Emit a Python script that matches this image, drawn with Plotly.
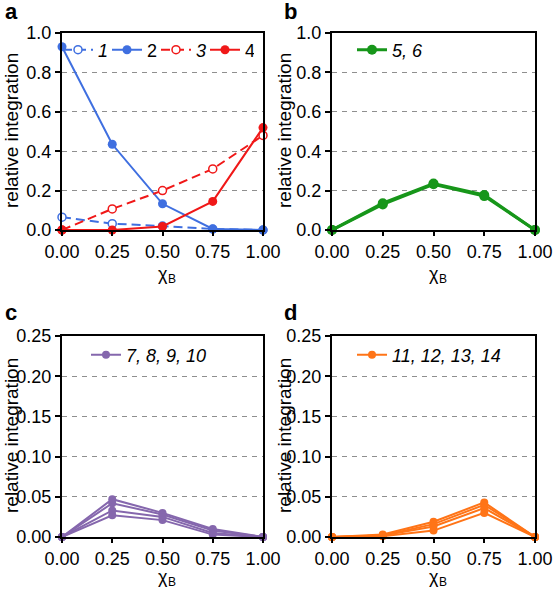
import plotly.graph_objects as go

W, H = 556, 591

x_vals = [0.0, 0.25, 0.5, 0.75, 1.0]
x_ticks = [0.0, 0.25, 0.5, 0.75, 1.0]
x_ticklabels = ["0.00", "0.25", "0.50", "0.75", "1.00"]

# panel a
s1 = [0.065, 0.032, 0.02, 0.005, 0.0]
s2 = [0.93, 0.435, 0.133, 0.005, 0.0]
s3 = [0.0, 0.107, 0.20, 0.31, 0.48]
s4 = [0.0, 0.0, 0.018, 0.145, 0.52]
# panel b
s5 = [0.0, 0.13, 0.232, 0.172, 0.0]
s6 = [0.0, 0.136, 0.236, 0.178, 0.0]
# panel c
s7 = [0.0, 0.047, 0.030, 0.010, 0.0]
s8 = [0.0, 0.042, 0.028, 0.008, 0.0]
s9 = [0.0, 0.033, 0.025, 0.005, 0.0]
s10 = [0.0, 0.027, 0.021, 0.003, 0.0]
# panel d
s11 = [0.0, 0.003, 0.019, 0.043, 0.0]
s12 = [0.0, 0.002, 0.016, 0.040, 0.0]
s13 = [0.0, 0.002, 0.013, 0.036, 0.0]
s14 = [0.0, 0.001, 0.008, 0.030, 0.0]

y_ticks_ab = [0.0, 0.2, 0.4, 0.6, 0.8, 1.0]
y_ticks_cd = [0.0, 0.05, 0.10, 0.15, 0.20, 0.25]

BLUE = "#3f6fe0"
RED = "#f01818"
GREEN = "#17961a"
PURPLE = "#8567ad"
ORANGE = "#ff7417"

FONT = "Liberation Sans, Arial, sans-serif"

fig = go.Figure()

def add(y, color, name, xa, ya, legend, dash="solid", open_=False, show=True, lw=2, ms=9):
    fig.add_trace(go.Scatter(
        x=x_vals, y=y, mode="lines+markers", name=name,
        line=dict(color=color, width=lw, dash=dash),
        marker=dict(color="white" if open_ else color, size=ms if not open_ else 8,
                    symbol="circle", line=dict(color=color, width=1.5 if open_ else 0)),
        xaxis=xa, yaxis=ya, legend=legend, showlegend=show, cliponaxis=False,
    ))

add(s1, BLUE, "<i>1</i>", "x", "y", "legend", dash="9px,5px", open_=True)
add(s2, BLUE, "2", "x", "y", "legend")
add(s3, RED, "<i>3</i>", "x", "y", "legend", dash="9px,5px", open_=True)
add(s4, RED, "4", "x", "y", "legend")

add(s5, GREEN, "<i>5, 6</i>", "x2", "y2", "legend2", lw=3, ms=10)
add(s6, GREEN, "6", "x2", "y2", "legend2", show=False, lw=3, ms=10)

for i, s in enumerate([s7, s8, s9, s10]):
    add(s, PURPLE, "<i>7, 8, 9, 10</i>", "x3", "y3", "legend3", show=(i == 0), ms=8)
for i, s in enumerate([s11, s12, s13, s14]):
    add(s, ORANGE, "<i>11, 12, 13, 14</i>", "x4", "y4", "legend4", show=(i == 0), ms=8)

def px_x(p):
    return p / W

def px_y(p):
    return 1 - p / H

xdom_l = [px_x(62), px_x(263)]
xdom_r = [px_x(332), px_x(535)]
ydom_t = [px_y(230), px_y(33)]
ydom_b = [px_y(537), px_y(336)]

xcommon = dict(range=[0, 1], tickvals=x_ticks, ticktext=x_ticklabels,
               showline=True, linecolor="black", linewidth=2, mirror=True,
               ticks="outside", ticklen=4, tickwidth=1.5, tickcolor="black",
               showgrid=False, zeroline=False, automargin=False,
               tickfont=dict(size=18, color="black", family=FONT))
ycommon = dict(showline=True, linecolor="black", linewidth=2, mirror=True,
               ticks="outside", ticklen=5, tickwidth=1.5, tickcolor="black",
               showgrid=True, gridcolor="#8f8f8f", gridwidth=1, griddash="5px,5px",
               zeroline=False, automargin=False,
               tickfont=dict(size=18, color="black", family=FONT))

fig.update_layout(
    template="none",
    width=W, height=H, margin=dict(l=0, r=0, t=0, b=0, autoexpand=False),
    paper_bgcolor="white", plot_bgcolor="white",
    font=dict(family=FONT, color="black"),
    xaxis=dict(domain=xdom_l, anchor="y", **xcommon),
    yaxis=dict(domain=ydom_t, anchor="x", range=[0, 1], tickvals=y_ticks_ab,
               ticktext=[f"{v:.1f}" for v in y_ticks_ab], **ycommon),
    xaxis2=dict(domain=xdom_r, anchor="y2", **xcommon),
    yaxis2=dict(domain=ydom_t, anchor="x2", range=[0, 1], tickvals=y_ticks_ab,
                ticktext=[f"{v:.1f}" for v in y_ticks_ab], **ycommon),
    xaxis3=dict(domain=xdom_l, anchor="y3", **xcommon),
    yaxis3=dict(domain=ydom_b, anchor="x3", range=[0, 0.25], tickvals=y_ticks_cd,
                ticktext=[f"{v:.2f}" for v in y_ticks_cd], **ycommon),
    xaxis4=dict(domain=xdom_r, anchor="y4", **xcommon),
    yaxis4=dict(domain=ydom_b, anchor="x4", range=[0, 0.25], tickvals=y_ticks_cd,
                ticktext=[f"{v:.2f}" for v in y_ticks_cd], **ycommon),
)

legcommon = dict(orientation="h", bgcolor="rgba(0,0,0,0)", borderwidth=0,
                 font=dict(size=18, color="black", family=FONT),
                 xanchor="left", yanchor="middle", itemclick=False,
                 tracegroupgap=0)
fig.update_layout(
    legend=dict(x=px_x(58), y=px_y(50), entrywidth=4, entrywidthmode="pixels", **legcommon),
    legend2=dict(x=px_x(352), y=px_y(50), **legcommon),
    legend3=dict(x=px_x(86), y=px_y(355), **legcommon),
    legend4=dict(x=px_x(352), y=px_y(355), **legcommon),
)

ann = []
for (t, x, y) in [("a", 3, 12), ("b", 282, 12), ("c", 3, 312), ("d", 282, 312)]:
    ann.append(dict(text=f"<b>{t}</b>", x=px_x(x), y=px_y(y), xref="paper", yref="paper",
                    xanchor="left", yanchor="middle", showarrow=False,
                    font=dict(size=22, color="black", family=FONT)))
for (x, y) in [(11, 131), (284, 131), (11, 436), (284, 436)]:
    ann.append(dict(text="relative integration", x=px_x(x), y=px_y(y), xref="paper", yref="paper",
                    xanchor="center", yanchor="middle", textangle=-90, showarrow=False,
                    font=dict(size=19, color="black", family=FONT)))
for (x, y) in [(169, 274), (440, 274), (169, 577), (440, 577)]:
    ann.append(dict(text="χ", x=px_x(x), y=px_y(y), xref="paper", yref="paper",
                    xanchor="right", yanchor="middle", showarrow=False, borderpad=0,
                    font=dict(size=18, color="black", family=FONT)))
    ann.append(dict(text="B", x=px_x(x - 2), y=px_y(y + 5), xref="paper", yref="paper",
                    xanchor="left", yanchor="middle", showarrow=False, borderpad=0,
                    font=dict(size=12, color="black", family=FONT)))
fig.update_layout(annotations=ann)

fig.write_html("out.html", config={"displayModeBar": False},
               post_script="document.body.style.margin='0';")
